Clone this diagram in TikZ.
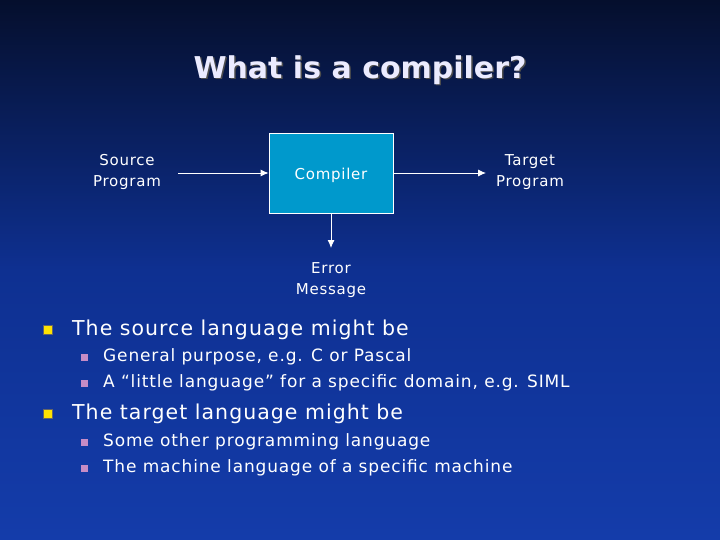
\documentclass[tikz,border=0pt]{standalone}
\usepackage{fontspec}
\setmainfont{DejaVu Sans}[LetterSpace=5]
\newfontfamily\titlefont{DejaVu Sans}
\usetikzlibrary{arrows.meta}
\begin{document}
\begin{tikzpicture}[x=1pt,y=-1pt,
  lbl/.style={text=white,font=\fontsize{15}{21}\selectfont,align=center,inner sep=0pt},
  arr/.style={draw=white,line width=0.9pt,-{Latex[length=8pt,width=7pt]}},
  l1/.style={text=white,font=\fontsize{20.5}{24}\selectfont,anchor=west,inner sep=0pt},
  l2/.style={text=white,font=\fontsize{17}{20}\selectfont,anchor=west,inner sep=0pt},
  b1/.style={fill=yellow!85!orange,draw=black!60,line width=0.3pt},
  b2/.style={fill=violet!45!white}]
\shade[top color={rgb,255:red,5;green,15;blue,45},bottom color={rgb,255:red,20;green,60;blue,170},middle color={rgb,255:red,14;green,48;blue,145}] (0,0) rectangle (720,540);
\useasboundingbox (0,0) rectangle (720,540);
\node[text=black!70,font=\titlefont\bfseries\fontsize{30}{34}\selectfont] at (361.5,71.5) {What is a compiler?};
\node (title) [text=white!92!blue,font=\titlefont\bfseries\fontsize{30}{34}\selectfont] at (360,70) {What is a compiler?};
\node (comp) [draw=white,line width=0.8pt,fill={rgb,255:red,0;green,153;blue,204},minimum width=124pt,minimum height=80pt] at (331,173) {};
\node (ct) [lbl] at (331,175) {Compiler};
\node (src) [lbl] at (127,172) {Source\\Program};
\node (tgt) [lbl] at (530,172) {Target\\Program};
\node (err) [lbl] at (331,280) {Error\\Message};
\coordinate (s1) at (178,173);
\coordinate (t1) at (486,173);
\coordinate (e1) at (331,248);
\draw[arr] (s1) -- (comp.west);
\draw[arr] (comp.east) -- (t1);
\draw[arr] (comp.south) -- (e1);
\fill[b1] (43,325) rectangle (52,334);
\node (a) [l1] at (72,330) {The source language might be};
\fill[b2] (81,354) rectangle (88,361);
\node (a1) [l2] at (103,357) {General purpose, e.g. C or Pascal};
\fill[b2] (81,380) rectangle (88,387);
\node (a2) [l2] at (103,383) {A “little language” for a specific domain, e.g. SIML};
\fill[b1] (43,409) rectangle (52,418);
\node (b) [l1] at (72,414) {The target language might be};
\fill[b2] (81,439) rectangle (88,446);
\node (b1n) [l2] at (103,442) {Some other programming language};
\fill[b2] (81,465) rectangle (88,472);
\node (b2n) [l2] at (103,468) {The machine language of a specific machine};
\end{tikzpicture}
\end{document}
